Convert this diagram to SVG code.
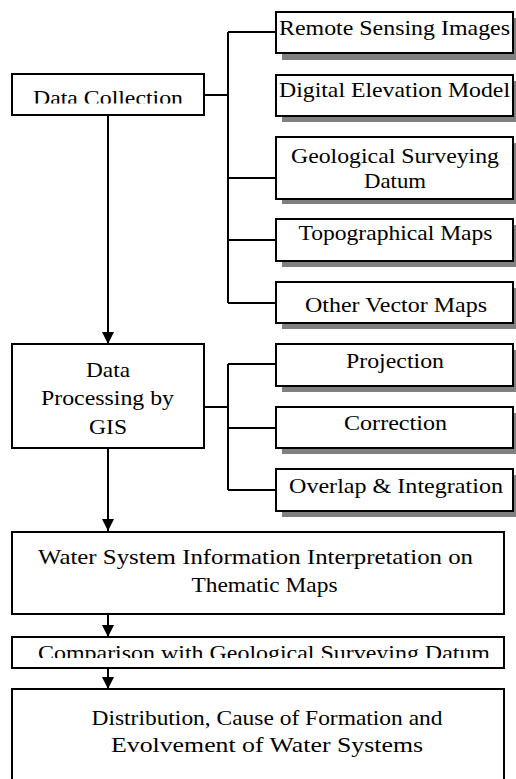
<svg xmlns="http://www.w3.org/2000/svg" width="516" height="779" viewBox="0 0 516 779">
<style>
.box{fill:#fff;stroke:#000;stroke-width:2}
.sh{fill:#808080}
.ln{fill:none;stroke:#000;stroke-width:2}
text{font-size:21px;fill:#000;text-anchor:middle}
</style>
<defs>
<marker id="ah" markerUnits="userSpaceOnUse" markerWidth="12" markerHeight="12" refX="12" refY="6" orient="auto">
<path d="M0,0 L12,6 L0,12 z" fill="#000"/>
</marker>
<clipPath id="c1"><rect x="12" y="75" width="191" height="28.5"/></clipPath>
<clipPath id="c2"><rect x="12" y="638" width="491" height="20"/></clipPath>
</defs>
<rect width="516" height="779" fill="#fff"/>
<g id="connectors">
<path class="ln" d="M204,95 H228 M228,32 V303 M228,32 H276 M228,178 H276 M228,240 H276 M228,303 H276"/>
<path class="ln" d="M204,407 H228 M228,364 V490 M228,364 H276 M228,428 H276 M228,490 H276"/>
<line class="ln" x1="108" y1="115" x2="108" y2="344" marker-end="url(#ah)"/>
<line class="ln" x1="108" y1="448" x2="108" y2="531" marker-end="url(#ah)"/>
<line class="ln" x1="108" y1="614" x2="108" y2="637" marker-end="url(#ah)"/>
<line class="ln" x1="108" y1="668" x2="108" y2="689" marker-end="url(#ah)"/>
</g>
<g font-family="Liberation Serif, Times New Roman, Times, serif">
<g id="n-data-collection">
<rect class="box" x="12" y="74" width="192" height="41"/>
<text x="108" y="105" textLength="150" lengthAdjust="spacingAndGlyphs" clip-path="url(#c1)">Data Collection</text>
</g>
<g id="n-remote">
<rect class="sh" x="282" y="18" width="234" height="42"/>
<rect class="box" x="276" y="12" width="237" height="41"/>
<text x="394.5" y="35" textLength="231" lengthAdjust="spacingAndGlyphs">Remote Sensing Images</text>
</g>
<g id="n-dem">
<rect class="sh" x="282" y="81" width="234" height="41"/>
<rect class="box" x="276" y="75" width="237" height="41"/>
<text x="394.5" y="97" textLength="231" lengthAdjust="spacingAndGlyphs">Digital Elevation Model</text>
</g>
<g id="n-geo">
<rect class="sh" x="282" y="143" width="234" height="61"/>
<rect class="box" x="276" y="137" width="237" height="62"/>
<text x="395" y="163" textLength="208" lengthAdjust="spacingAndGlyphs">Geological Surveying</text>
<text x="395" y="188" textLength="62" lengthAdjust="spacingAndGlyphs">Datum</text>
</g>
<g id="n-topo">
<rect class="sh" x="282" y="225" width="234" height="42"/>
<rect class="box" x="276" y="219" width="237" height="42"/>
<text x="395.5" y="240" textLength="194" lengthAdjust="spacingAndGlyphs">Topographical Maps</text>
</g>
<g id="n-vector">
<rect class="sh" x="282" y="288" width="234" height="41"/>
<rect class="box" x="276" y="282" width="237" height="41"/>
<text x="396" y="311.5" textLength="182" lengthAdjust="spacingAndGlyphs">Other Vector Maps</text>
</g>
<g id="n-processing">
<rect class="box" x="12" y="344" width="192" height="104"/>
<text x="108" y="377" textLength="44" lengthAdjust="spacingAndGlyphs">Data</text>
<text x="107.5" y="405" textLength="133" lengthAdjust="spacingAndGlyphs">Processing by</text>
<text x="108" y="433.5" textLength="38" lengthAdjust="spacingAndGlyphs">GIS</text>
</g>
<g id="n-projection">
<rect class="sh" x="282" y="350" width="234" height="42"/>
<rect class="box" x="276" y="344" width="237" height="42"/>
<text x="395" y="368" textLength="98" lengthAdjust="spacingAndGlyphs">Projection</text>
</g>
<g id="n-correction">
<rect class="sh" x="282" y="413" width="234" height="41"/>
<rect class="box" x="276" y="407" width="237" height="41"/>
<text x="395.5" y="430" textLength="103" lengthAdjust="spacingAndGlyphs">Correction</text>
</g>
<g id="n-overlap">
<rect class="sh" x="282" y="475" width="234" height="42"/>
<rect class="box" x="276" y="469" width="237" height="42"/>
<text x="396" y="492.5" textLength="214" lengthAdjust="spacingAndGlyphs">Overlap &amp; Integration</text>
</g>
<g id="n-water">
<rect class="box" x="12" y="532" width="492" height="82"/>
<text x="255.5" y="564" textLength="435" lengthAdjust="spacingAndGlyphs">Water System Information Interpretation on</text>
<text x="264.5" y="591.5" textLength="146" lengthAdjust="spacingAndGlyphs">Thematic Maps</text>
</g>
<g id="n-comparison">
<rect class="box" x="12" y="637" width="492" height="31"/>
<text x="264" y="660" textLength="452" lengthAdjust="spacingAndGlyphs" clip-path="url(#c2)">Comparison with Geological Surveying Datum</text>
</g>
<g id="n-distribution">
<rect class="box" x="12" y="689" width="492" height="110"/>
<text x="267" y="725" textLength="351" lengthAdjust="spacingAndGlyphs">Distribution, Cause of Formation and</text>
<text x="267" y="751.5" textLength="312" lengthAdjust="spacingAndGlyphs">Evolvement of Water Systems</text>
</g>
</g>
</svg>
